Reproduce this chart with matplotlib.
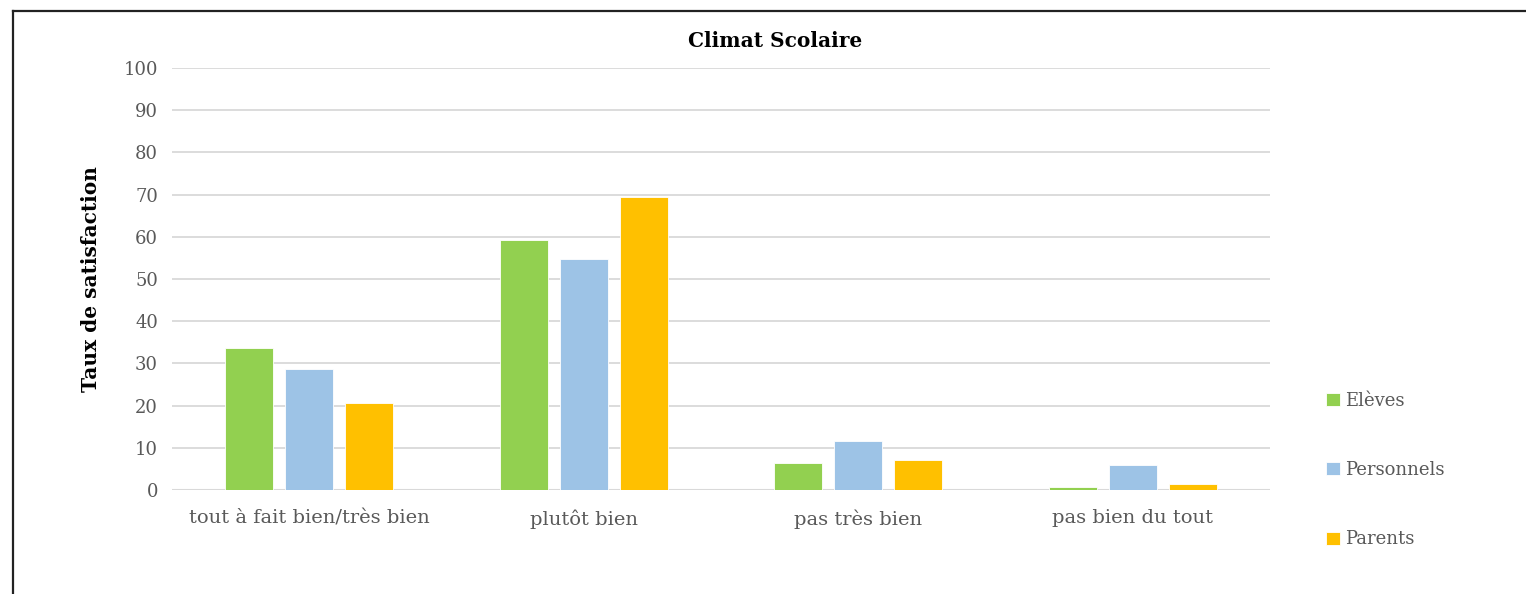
import numpy as np
import matplotlib
matplotlib.use("Agg")
import matplotlib.pyplot as plt
from matplotlib.lines import Line2D

categories = ["tout à fait bien/très bien", "plutôt bien", "pas très bien", "pas bien du tout"]
series = ["Elèves", "Personnels", "Parents"]
eleves = [33.6, 59.2, 6.4, 0.7]
personnels = [28.6, 54.7, 11.6, 5.9]
parents = [20.7, 69.5, 7.1, 1.4]
yticks = list(range(0, 101, 10))

COLORS = ("#92D050", "#9DC3E6", "#FFC000")
TXT = "#595959"

plt.rcParams["font.family"] = ["DejaVu Serif"]

fig = plt.figure(figsize=(15.26, 5.94), dpi=100)
ax = fig.add_axes([172 / 1526, 1 - 490 / 594, 1098 / 1526, 422 / 594])

x = np.arange(len(categories))
w, step = 0.175, 0.219
for i, (vals, col, lab) in enumerate(zip((eleves, personnels, parents), COLORS, series)):
    ax.bar(x + (i - 1) * step, vals, width=w, color=col, label=lab,
           edgecolor="white", linewidth=0.6, zorder=3)

ax.set_xlim(-0.5, len(categories) - 0.5)
ax.set_ylim(0, 100)
ax.set_yticks(yticks)
ax.set_xticks(x)
ax.set_xticklabels(categories, fontsize=14, color=TXT)
ax.tick_params(axis="y", labelsize=13, colors=TXT, length=0, pad=10)
ax.tick_params(axis="x", length=0, pad=14)
for s in ax.spines.values():
    s.set_visible(False)
ax.grid(axis="y", color="#d9d9d9", lw=1.3, zorder=0)
ax.axhline(0, color="#d9d9d9", lw=1.5, zorder=2)
ax.set_ylabel("Taux de satisfaction", fontsize=14.5, weight="bold", labelpad=16)

fig.text(775 / 1526, 1 - 41 / 594, "Climat Scolaire", ha="center", va="center",
         fontsize=14.5, weight="bold", color="black")

fig.legend(loc="center left", bbox_to_anchor=(1310 / 1526, 1 - 470 / 594), frameon=False,
           fontsize=13, handlelength=0.75, handleheight=0.75, handletextpad=0.3,
           labelspacing=2.85, labelcolor=TXT)

# cadre
fig.add_artist(Line2D([13 / 1526, 1], [1 - 11 / 594] * 2, color="#222222", lw=1.6,
                      transform=fig.transFigure))
fig.add_artist(Line2D([13 / 1526] * 2, [0, 1 - 11 / 594], color="#222222", lw=1.6,
                      transform=fig.transFigure))

fig.savefig("out.png", dpi=100)
